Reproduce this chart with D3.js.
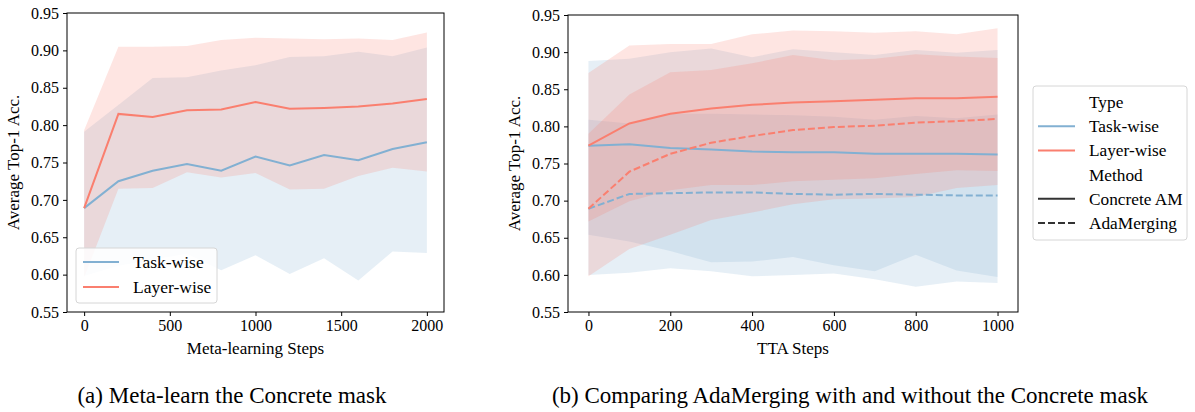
<!DOCTYPE html>
<html>
<head>
<meta charset="utf-8">
<script src="https://cdn.jsdelivr.net/npm/d3@7"></script>
<style>
  body { margin: 0; background: #fff; }
  text { font-family: "Liberation Serif", "Times New Roman", serif; fill: #000; }
</style>
</head>
<body>
<svg id="chart" width="1195" height="412"></svg>
<script>
// ---- data (a): meta-learning the concrete mask
const metaSteps = [0, 200, 400, 600, 800, 1000, 1200, 1400, 1600, 1800, 2000];
const metaTaskMean = [0.689, 0.725, 0.739, 0.748, 0.739, 0.758, 0.746, 0.760, 0.753, 0.768, 0.777];
const metaTaskLow  = [0.598, 0.612, 0.620, 0.628, 0.606, 0.626, 0.601, 0.622, 0.592, 0.631, 0.629];
const metaTaskHigh = [0.791, 0.827, 0.863, 0.864, 0.873, 0.880, 0.891, 0.892, 0.898, 0.892, 0.904];
const metaLayerMean = [0.689, 0.815, 0.811, 0.820, 0.821, 0.831, 0.822, 0.823, 0.825, 0.829, 0.835];
const metaLayerLow  = [0.596, 0.715, 0.716, 0.737, 0.730, 0.736, 0.714, 0.715, 0.732, 0.743, 0.738];
const metaLayerHigh = [0.793, 0.905, 0.905, 0.906, 0.914, 0.917, 0.916, 0.915, 0.916, 0.914, 0.924];

// ---- data (b): TTA steps, Concrete AM vs AdaMerging
const ttaSteps = [0, 100, 200, 300, 400, 500, 600, 700, 800, 900, 1000];
const camTaskMean = [0.774, 0.776, 0.771, 0.769, 0.766, 0.765, 0.765, 0.763, 0.763, 0.763, 0.762];
const camTaskLow  = [0.654, 0.645, 0.632, 0.617, 0.618, 0.624, 0.613, 0.605, 0.627, 0.606, 0.597];
const camTaskHigh = [0.888, 0.891, 0.900, 0.905, 0.893, 0.904, 0.900, 0.896, 0.903, 0.899, 0.903];
const camLayerMean = [0.774, 0.804, 0.817, 0.824, 0.829, 0.832, 0.834, 0.836, 0.838, 0.838, 0.840];
const camLayerLow  = [0.672, 0.699, 0.714, 0.721, 0.721, 0.726, 0.728, 0.730, 0.736, 0.741, 0.740];
const camLayerHigh = [0.872, 0.909, 0.911, 0.911, 0.924, 0.929, 0.928, 0.926, 0.928, 0.924, 0.932];
const adaTaskMean = [0.689, 0.709, 0.710, 0.711, 0.711, 0.709, 0.708, 0.709, 0.708, 0.707, 0.707];
const adaTaskLow  = [0.600, 0.603, 0.609, 0.605, 0.598, 0.600, 0.602, 0.594, 0.584, 0.591, 0.589];
const adaTaskHigh = [0.809, 0.804, 0.817, 0.817, 0.816, 0.815, 0.813, 0.809, 0.814, 0.811, 0.816];
const adaLayerMean = [0.689, 0.739, 0.763, 0.778, 0.787, 0.795, 0.799, 0.801, 0.805, 0.807, 0.810];
const adaLayerLow  = [0.598, 0.635, 0.654, 0.674, 0.684, 0.695, 0.702, 0.703, 0.705, 0.717, 0.721];
const adaLayerHigh = [0.790, 0.843, 0.873, 0.876, 0.885, 0.896, 0.889, 0.891, 0.897, 0.894, 0.892];

const yTicks = [0.55, 0.60, 0.65, 0.70, 0.75, 0.80, 0.85, 0.90, 0.95];
const metaTicks = [0, 500, 1000, 1500, 2000];
const ttaTicks = [0, 200, 400, 600, 800, 1000];

const blue = "#82B0D2", red = "#FA7F6F";

const svg = d3.select("#chart");

// one panel: frame, bands, lines, axes
function panel(box, xDomain, xTicks, xLabel, series) {
  const x = d3.scaleLinear().domain(xDomain).range([box.left, box.right]);
  const y = d3.scaleLinear().domain([0.55, 0.95]).range([box.bottom, box.top]);
  const g = svg.append("g");

  const area = d3.area()
    .x(d => x(d.s)).y0(d => y(d.lo)).y1(d => y(d.hi));
  const line = d3.line().x(d => x(d.s)).y(d => y(d.m));

  const rows = series.map(s => s.steps.map((st, i) => ({ s: st, m: s.mean[i], lo: s.low[i], hi: s.high[i] })));

  // bands below all lines
  series.forEach((s, k) => {
    g.append("path").attr("d", area(rows[k]))
      .attr("fill", s.color).attr("fill-opacity", 0.2);
  });
  series.forEach((s, k) => {
    g.append("path").attr("d", line(rows[k]))
      .attr("fill", "none").attr("stroke", s.color).attr("stroke-width", 2)
      .attr("stroke-dasharray", s.dash ? "7,3" : null);
  });

  // frame
  g.append("rect")
    .attr("x", box.left).attr("y", box.top)
    .attr("width", box.right - box.left).attr("height", box.bottom - box.top)
    .attr("fill", "none").attr("stroke", "#000").attr("stroke-width", 1);

  const xa = g.append("g").attr("transform", `translate(0,${box.bottom})`)
    .call(d3.axisBottom(x).tickValues(xTicks).tickSize(4).tickPadding(4).tickFormat(d3.format("d")));
  const ya = g.append("g").attr("transform", `translate(${box.left},0)`)
    .call(d3.axisLeft(y).tickValues(yTicks).tickSize(4).tickPadding(4).tickFormat(d3.format(".2f")));
  [xa, ya].forEach(a => {
    a.select(".domain").remove();
    a.selectAll("text").attr("font-size", 16);
  });

  g.append("text")
    .attr("x", (box.left + box.right) / 2).attr("y", 354)
    .attr("text-anchor", "middle").attr("font-size", 17).text(xLabel);
  g.append("text")
    .attr("transform", `translate(${box.left - 48},${(box.top + box.bottom) / 2}) rotate(-90)`)
    .attr("text-anchor", "middle").attr("font-size", 17).text("Average Top-1 Acc.");
}

panel({ left: 67, right: 444, top: 13, bottom: 312 }, [-100, 2100], metaTicks, "Meta-learning Steps", [
  { steps: metaSteps, mean: metaTaskMean, low: metaTaskLow, high: metaTaskHigh, color: blue },
  { steps: metaSteps, mean: metaLayerMean, low: metaLayerLow, high: metaLayerHigh, color: red }
]);

panel({ left: 568, right: 1018, top: 15, bottom: 312 }, [-50, 1050], ttaTicks, "TTA Steps", [
  { steps: ttaSteps, mean: camTaskMean, low: camTaskLow, high: camTaskHigh, color: blue },
  { steps: ttaSteps, mean: adaTaskMean, low: adaTaskLow, high: adaTaskHigh, color: blue, dash: true },
  { steps: ttaSteps, mean: camLayerMean, low: camLayerLow, high: camLayerHigh, color: red },
  { steps: ttaSteps, mean: adaLayerMean, low: adaLayerLow, high: adaLayerHigh, color: red, dash: true }
]);

// legend (a)
const legA = svg.append("g");
legA.append("rect").attr("x", 76).attr("y", 248).attr("width", 141).attr("height", 55).attr("rx", 3)
  .attr("fill", "#fff").attr("fill-opacity", 0.85).attr("stroke", "#d6d6d6");
[["Task-wise", blue, 262], ["Layer-wise", red, 287]].forEach(([t, c, yy]) => {
  legA.append("line").attr("x1", 83).attr("x2", 119).attr("y1", yy).attr("y2", yy)
    .attr("stroke", c).attr("stroke-width", 2);
  legA.append("text").attr("x", 133).attr("y", yy).attr("dy", "0.35em").attr("font-size", 17.5).text(t);
});

// legend (b)
const legB = svg.append("g");
legB.append("rect").attr("x", 1033).attr("y", 86).attr("width", 154).attr("height", 154).attr("rx", 3)
  .attr("fill", "#fff").attr("stroke", "#d6d6d6");
const legItems = [
  ["Type", null, false], ["Task-wise", blue, false], ["Layer-wise", red, false],
  ["Method", null, false], ["Concrete AM", "#333", false], ["AdaMerging", "#333", true]
];
legItems.forEach(([t, c, dash], i) => {
  const yy = 102 + i * 24.2;
  if (c) legB.append("line").attr("x1", 1038).attr("x2", 1075).attr("y1", yy).attr("y2", yy)
    .attr("stroke", c).attr("stroke-width", 2).attr("stroke-dasharray", dash ? "7,3" : null);
  legB.append("text").attr("x", 1089).attr("y", yy).attr("dy", "0.35em").attr("font-size", 17.3).text(t);
});

// captions
svg.append("text").attr("x", 232).attr("y", 403).attr("text-anchor", "middle").attr("font-size", 23)
  .text("(a) Meta-learn the Concrete mask");
svg.append("text").attr("x", 850).attr("y", 403).attr("text-anchor", "middle").attr("font-size", 23)
  .text("(b) Comparing AdaMerging with and without the Concrete mask");
</script>
</body>
</html>
